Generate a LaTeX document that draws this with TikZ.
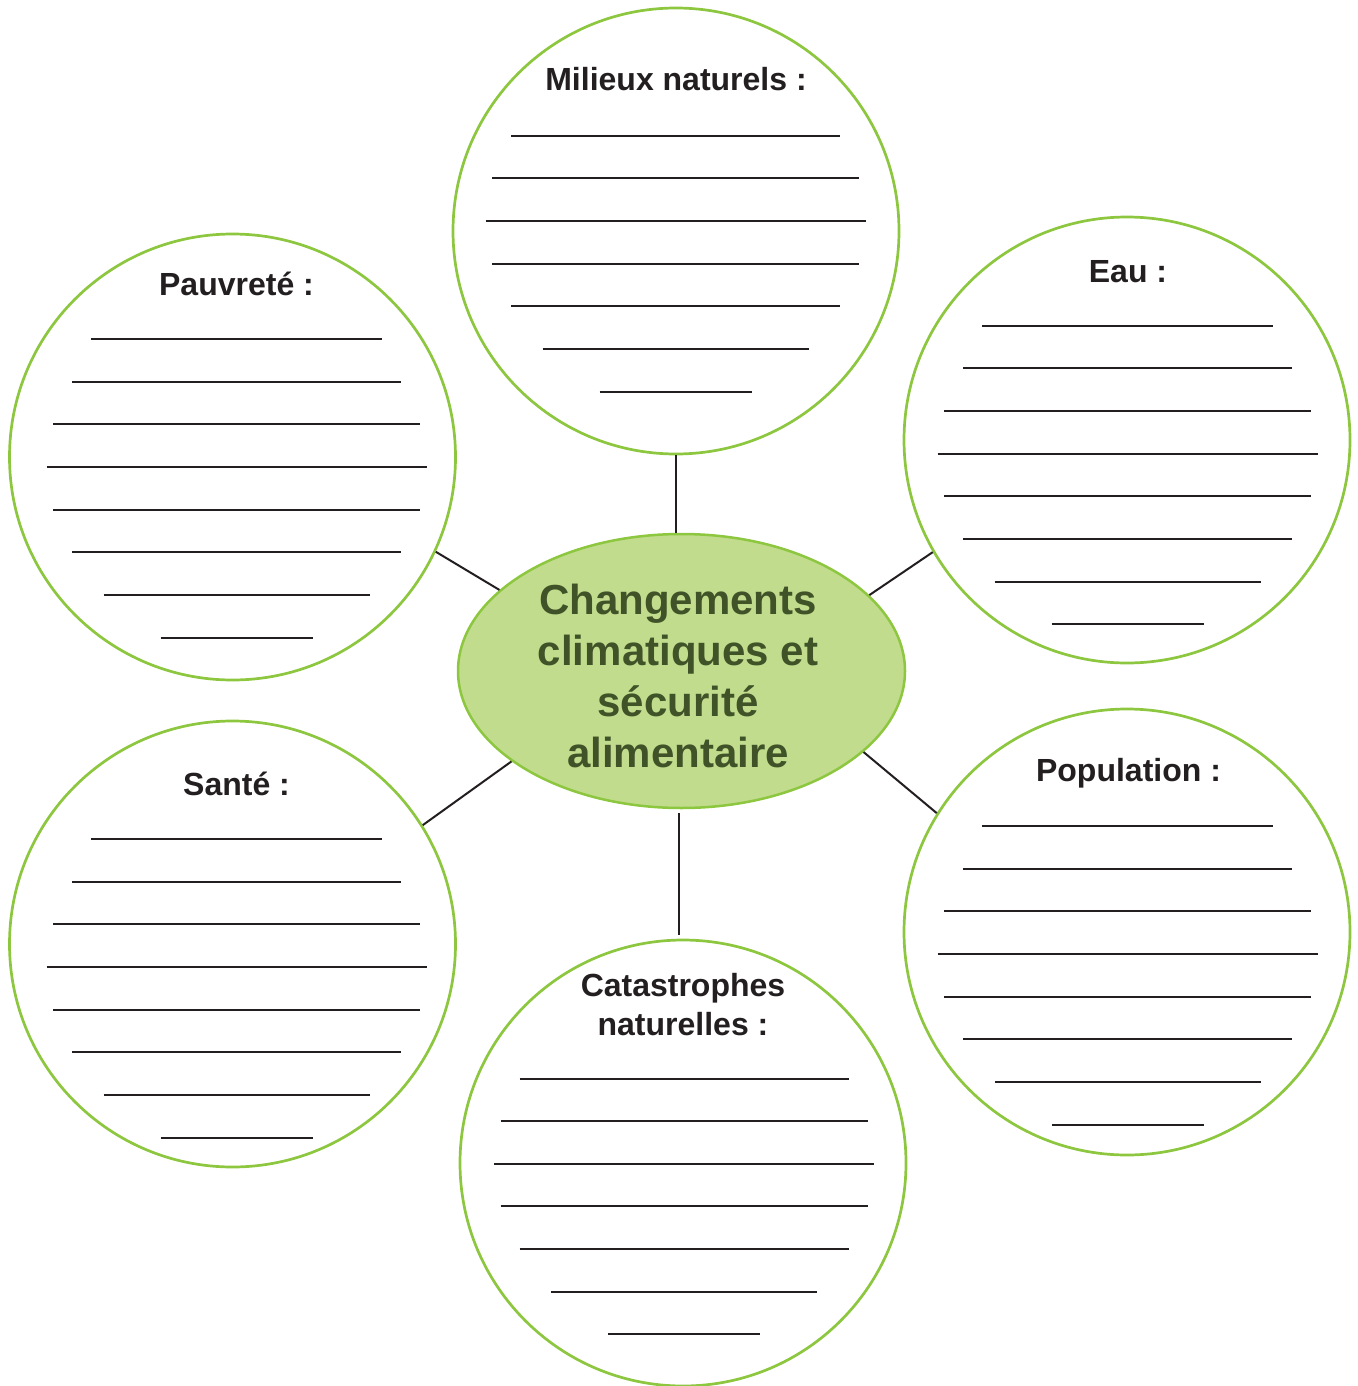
\documentclass[tikz,border=0pt]{standalone}
\usepackage{fontspec}
\setmainfont{Liberation Sans}
\usetikzlibrary{shapes.geometric}
\definecolor{ringgreen}{HTML}{8DC63F}
\definecolor{fillgreen}{HTML}{C1DC8C}
\definecolor{textgreen}{HTML}{3F5228}
\definecolor{ink}{HTML}{231F20}
% rules to write on: #1 = centre x, #2 = first y, #3 = list of index/half-width
\newcommand\writerules[3]{%
  \foreach \k/\h in {#3}{%
    \draw[blank] ({#1-\h},{round(#2+42.65*\k)}) -- ({#1+\h},{round(#2+42.65*\k)});
  }%
}
\begin{document}
\begin{tikzpicture}[x=1pt,y=-1pt,
  bubble/.style={circle,draw=ringgreen,line width=2.7pt,minimum size=446pt,inner sep=0pt},
  hub/.style={ellipse,draw=ringgreen,fill=fillgreen,line width=2.5pt,minimum width=447pt,minimum height=274pt,inner sep=0pt},
  title/.style={font=\bfseries\fontsize{32}{39}\selectfont,text=ink,inner sep=0pt,align=center},
  hubtext/.style={font=\bfseries\fontsize{42}{51}\selectfont,text=textgreen,inner sep=0pt,align=center},
  link/.style={draw=ink,line width=2pt},
  blank/.style={draw=ink,line width=1.7pt}]
\useasboundingbox (0,0) rectangle (1357,1386);

% circles
\node[bubble] (mil)   at (676,231)    {};
\node[bubble] (eau)   at (1127,440)   {};
\node[bubble] (pauv)  at (232.5,457)  {};
\node[bubble] (sante) at (232.5,944)  {};
\node[bubble] (pop)   at (1127,932)   {};
\node[bubble] (cat)   at (683,1163)   {};

% centre
\node[hub] (hub) at (681.5,671) {};
\node[hubtext] (htext) at (678,676) {Changements\\climatiques et\\sécurité\\alimentaire};

% connectors
\draw[link] (mil.-90.5) -- (mil.-90.5 |- hub.north);
\draw[link] (pauv.-25.3) -- (hub.156.7);
\draw[link] (eau.-150.75) -- (hub.22.9);
\draw[link] (sante.32.1) -- (hub.-152.1);
\draw[link] (pop.148.2) -- (hub.-24.7);
\draw[link,shorten <=4pt,shorten >=4pt] (cat.91.5 |- hub.south) -- (cat.91.5);

% titles
\node[title,anchor=base] (tmil)   at (676,91)     {Milieux naturels :};
\node[title,anchor=base] (teau)   at (1128,282)   {Eau :};
\node[title,anchor=base] (tpauv)  at (236.5,295)  {Pauvreté :};
\node[title,anchor=base] (tsante) at (236.5,795)  {Santé :};
\node[title,anchor=base] (tpop)   at (1128.5,781) {Population :};
\node[title] (tcat) at (683,1005) {Catastrophes\\naturelles :};

% writing rules
\writerules{675.5}{135.7}{0/164.5,1/183.5,2/190,3/183.5,4/164.5,5/133,6/76}
\writerules{1127.5}{325.7}{0/145.5,1/164.5,2/183.5,3/190,4/183.5,5/164.5,6/133,7/76}
\writerules{236.5}{339}{0/145.5,1/164.5,2/183.5,3/190,4/183.5,5/164.5,6/133,7/76}
\writerules{236.5}{839}{0/145.5,1/164.5,2/183.5,3/190,4/183.5,5/164.5,6/133,7/76}
\writerules{1127.8}{826}{0/145.5,1/164.5,2/183.5,3/190,4/183.5,5/164.5,6/133,7/76}
\writerules{684}{1078.5}{0/164.5,1/183.5,2/190,3/183.5,4/164.5,5/133,6/76}
\end{tikzpicture}
\end{document}
